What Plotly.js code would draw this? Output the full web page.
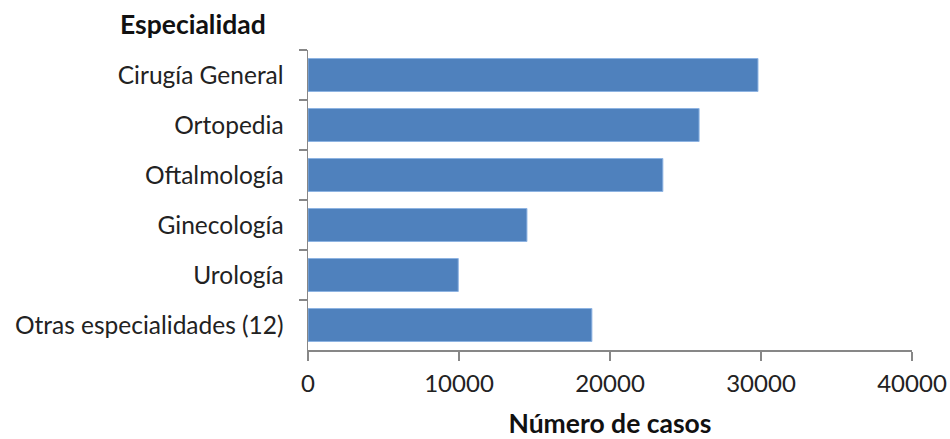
<!DOCTYPE html>
<html>
<head>
<meta charset="utf-8">
<script src="https://cdn.plot.ly/plotly-3.0.1.min.js"></script>
<style>html,body{margin:0;padding:0;background:#fff;}#chart{width:950px;height:439px;}</style>
</head>
<body>
<div id="chart"></div>
<script>
const categories = ["Cirugía General", "Ortopedia", "Oftalmología", "Ginecología", "Urología", "Otras especialidades (12)"];
const casos = [29800, 25900, 23500, 14500, 9950, 18800];
const xTicks = [0, 10000, 20000, 30000, 40000];

const FONT = "Lato, 'Open Sans', sans-serif";
const axisColor = "#878787";

const trace = {
  type: "bar",
  orientation: "h",
  y: categories,
  x: casos,
  width: 0.66,
  marker: { color: "#4F81BD", line: { color: "#8DB3E2", width: 1 } },
  hoverinfo: "x+y"
};

const layout = {
  width: 950,
  height: 439,
  margin: { l: 308, r: 38, t: 50, b: 89 },
  paper_bgcolor: "#ffffff",
  plot_bgcolor: "#ffffff",
  showlegend: false,
  font: { family: FONT, size: 24, color: "#222" },
  xaxis: {
    range: [0, 40000],
    tickvals: xTicks,
    ticktext: xTicks.map(String),
    showgrid: false,
    zeroline: false,
    showline: true,
    linecolor: axisColor,
    linewidth: 1.5,
    ticks: "outside",
    ticklen: 9,
    tickcolor: axisColor,
    tickwidth: 1.5,
    ticklabelstandoff: 3,
    tickfont: { family: FONT, size: 24, color: "#222" },
    title: { text: "<b>Número de casos</b>", font: { family: FONT, size: 26.5, color: "#111" }, standoff: 20 }
  },
  yaxis: {
    type: "category",
    autorange: "reversed",
    showgrid: false,
    zeroline: false,
    showline: true,
    linecolor: axisColor,
    linewidth: 1.5,
    ticks: "outside",
    ticklen: 8,
    tickcolor: axisColor,
    tickwidth: 1.5,
    tickson: "boundaries",
    ticklabelstandoff: 18,
    tickfont: { family: FONT, size: 24.5, color: "#222" }
  },
  annotations: [{
    text: "<b>Especialidad</b>",
    xref: "paper", yref: "paper",
    x: (268 - 308) / 604, y: (350 - 24) / 300,
    xanchor: "right", yanchor: "middle",
    showarrow: false,
    font: { family: FONT, size: 26.5, color: "#111" }
  }]
};

Plotly.newPlot("chart", [trace], layout, { displayModeBar: false, staticPlot: true });
</script>
</body>
</html>
